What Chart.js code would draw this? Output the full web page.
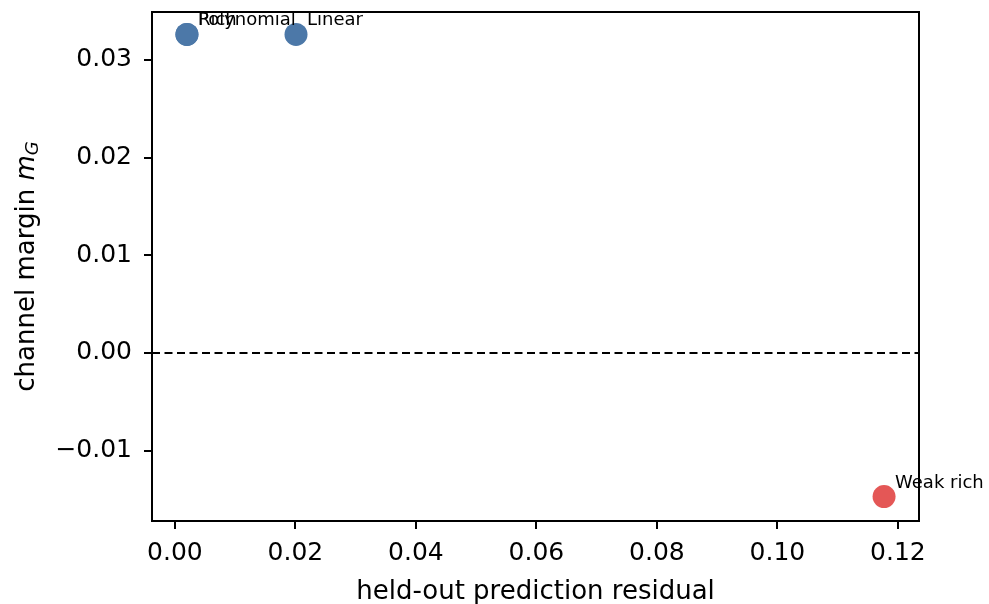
<!DOCTYPE html>
<html>
<head>
<meta charset="utf-8">
<script src="https://cdn.jsdelivr.net/npm/chart.js@4"></script>
<style>
  html, body { margin: 0; padding: 0; background: #fff; }
  #wrap { width: 989px; height: 604px; }
</style>
</head>
<body>
<div id="wrap"><canvas id="myChart" width="989" height="604"></canvas></div>
<script>
// data
var names = ['Rich', 'Polynomial', 'Linear', 'Weak rich'];
var residuals = [0.0020, 0.0020, 0.0201, 0.1177];
var margins = [0.0326, 0.0326, 0.0326, -0.0147];
var pointColors = ['#4c78a8', '#4c78a8', '#4c78a8', '#e45756'];
var xTicks = [0.00, 0.02, 0.04, 0.06, 0.08, 0.10, 0.12];
var yTicks = [-0.01, 0.00, 0.01, 0.02, 0.03];
var zeroLine = 0;

var FONT = "'DejaVu Sans', sans-serif";

function fmt(v) {
    return v.toFixed(2).replace('-', '\u2212');
}

var points = residuals.map(function (r, i) {
    return { x: r, y: margins[i] };
});

// frame, zero line, point labels, y title
var extras = {
    id: 'extras',
    beforeDatasetsDraw: function (chart) {
        var ctx = chart.ctx, a = chart.chartArea, ys = chart.scales.y;
        var y0 = ys.getPixelForValue(zeroLine);
        ctx.save();
        ctx.strokeStyle = '#000';
        ctx.lineWidth = 2;
        ctx.setLineDash([8, 4.5]);
        ctx.beginPath();
        ctx.moveTo(a.left, y0);
        ctx.lineTo(a.right, y0);
        ctx.stroke();
        ctx.restore();
    },
    afterDraw: function (chart) {
        var ctx = chart.ctx, a = chart.chartArea;
        var xs = chart.scales.x, ys = chart.scales.y;
        ctx.save();
        ctx.strokeStyle = '#000';
        ctx.lineWidth = 2;
        ctx.strokeRect(a.left, a.top, a.right - a.left, a.bottom - a.top);

        ctx.fillStyle = '#000';
        ctx.font = '18px ' + FONT;
        ctx.textAlign = 'left';
        ctx.textBaseline = 'alphabetic';
        for (var i = 0; i < names.length; i++) {
            var px = xs.getPixelForValue(residuals[i]);
            var py = ys.getPixelForValue(margins[i]);
            ctx.fillText(names[i], px + 11, py - 9);
        }

        // y axis title with italic m_G
        ctx.translate(27, (a.top + a.bottom) / 2);
        ctx.rotate(-Math.PI / 2);
        ctx.textBaseline = 'middle';
        var t1 = 'channel margin ';
        ctx.font = '26px ' + FONT;
        var w1 = ctx.measureText(t1).width;
        ctx.font = 'italic 26px ' + FONT;
        var w2 = ctx.measureText('m').width;
        ctx.font = 'italic 18px ' + FONT;
        var w3 = ctx.measureText('G').width;
        var start = -(w1 + w2 + w3) / 2;
        ctx.font = '26px ' + FONT;
        ctx.fillText(t1, start, 0);
        ctx.font = 'italic 26px ' + FONT;
        ctx.fillText('m', start + w1, 0);
        ctx.font = 'italic 18px ' + FONT;
        ctx.fillText('G', start + w1 + w2, 6);
        ctx.restore();
    }
};

var chart = new Chart(document.getElementById('myChart').getContext('2d'), {
    type: 'scatter',
    data: {
        datasets: [{
            data: points,
            backgroundColor: pointColors,
            borderColor: pointColors,
            pointRadius: 11.5,
            pointHoverRadius: 11.5,
            borderWidth: 0
        }]
    },
    options: {
        responsive: false,
        animation: false,
        events: [],
        layout: { padding: { top: 12, right: 70, left: 0, bottom: 0 } },
        plugins: {
            legend: { display: false },
            tooltip: { enabled: false }
        },
        scales: {
            x: {
                type: 'linear',
                min: -0.0038,
                max: 0.1235,
                afterFit: function (s) {
                    s.height = 83;
                    s.paddingLeft = 0;
                    s.paddingRight = 0;
                },
                afterBuildTicks: function (s) {
                    s.ticks = xTicks.map(function (v) { return { value: v }; });
                },
                border: { display: true, color: '#000', width: 2 },
                grid: { display: true, drawOnChartArea: false, drawTicks: true, tickLength: 8, color: '#000', lineWidth: 2 },
                ticks: {
                    color: '#000',
                    font: { family: FONT, size: 25 },
                    padding: 9,
                    maxRotation: 0,
                    callback: function (v) { return fmt(v); }
                },
                title: {
                    display: true,
                    text: 'held-out prediction residual',
                    color: '#000',
                    font: { family: FONT, size: 26, lineHeight: 0.9 },
                    padding: { top: 2, bottom: 0 }
                }
            },
            y: {
                type: 'linear',
                min: -0.0172,
                max: 0.0349,
                afterFit: function (s) {
                    s.width = 152;
                    s.paddingTop = 0;
                    s.paddingBottom = 0;
                },
                afterBuildTicks: function (s) {
                    s.ticks = yTicks.map(function (v) { return { value: v }; });
                },
                border: { display: true, color: '#000', width: 2 },
                grid: { display: true, drawOnChartArea: false, drawTicks: true, tickLength: 8, color: '#000', lineWidth: 2 },
                ticks: {
                    color: '#000',
                    font: { family: FONT, size: 25 },
                    padding: 12,
                    callback: function (v) { return fmt(v); }
                }
            }
        }
    },
    plugins: [extras]
});
</script>
</body>
</html>
